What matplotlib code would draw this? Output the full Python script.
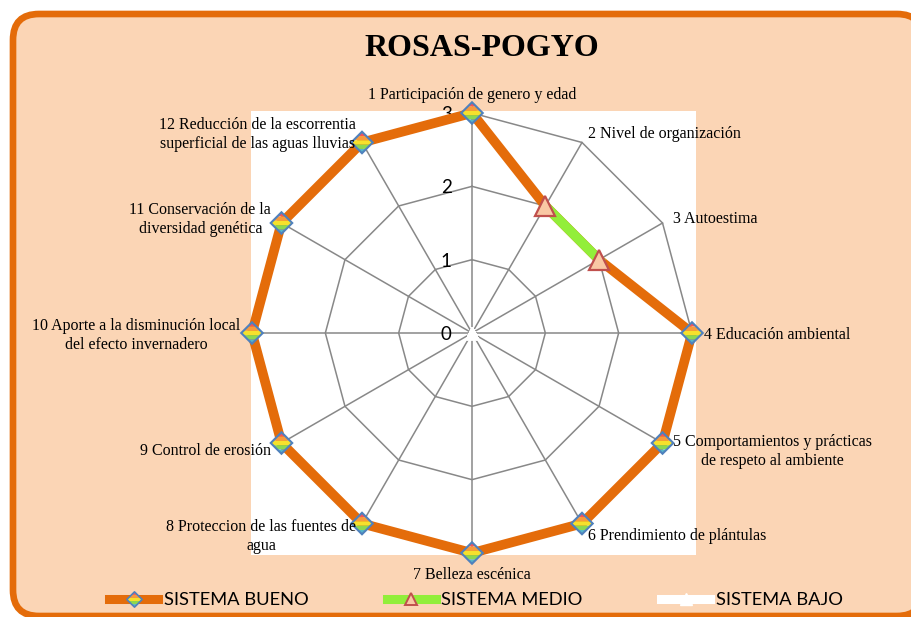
import numpy as np
import matplotlib
matplotlib.use("Agg")
import matplotlib.pyplot as plt
from matplotlib.patches import FancyBboxPatch, Rectangle
from matplotlib.path import Path
from matplotlib.lines import Line2D
from matplotlib.transforms import IdentityTransform
from matplotlib.legend_handler import HandlerTuple

# data
categorias = [
    "1 Participación de genero y edad",
    "2 Nivel de organización",
    "3 Autoestima",
    "4 Educación ambiental",
    "5 Comportamientos y prácticas\nde respeto al ambiente",
    "6 Prendimiento de plántulas",
    "7 Belleza escénica",
    "8 Proteccion de las fuentes de\nagua",
    "9 Control de erosión",
    "10 Aporte a la disminución local\ndel efecto invernadero",
    "11 Conservación de la\ndiversidad genética",
    "12 Reducción de la escorrentia\nsuperficial de las aguas lluvias",
]
sistema_bueno = [3, 2, 2, 3, 3, 3, 3, 3, 3, 3, 3, 3]
sistema_medio = [np.nan, 2, 2, np.nan, np.nan, np.nan, np.nan, np.nan, np.nan, np.nan, np.nan, np.nan]
sistema_bajo = [0] * 12
niveles = [0, 1, 2, 3]
titulo = "ROSAS-POGYO"
series_nombres = ["SISTEMA BUENO", "SISTEMA MEDIO", "SISTEMA BAJO"]

NARANJA = "#E46C0A"
DURAZNO = "#FBD5B5"
VERDE = "#92EE3A"
GRIS = "#888888"
AZUL = "#4F81BD"
ARCOIRIS = ["#F2545B", "#F89A3C", "#F6E12C", "#8ED84F", "#56B7C9"]

W, H = 912, 617
fig = plt.figure(figsize=(W / 100, H / 100), dpi=100)
fig.patch.set_facecolor("white")

# fondo redondeado
fondo = FancyBboxPatch((13, 1), 910, 602, boxstyle="round,pad=0,rounding_size=26",
                       facecolor=DURAZNO, edgecolor=NARANJA, linewidth=4.8,
                       transform=IdentityTransform(), zorder=-2)
fig.patches.append(fondo)
# area de trazado blanca
fig.patches.append(Rectangle((251 / W, 1 - 555 / H), 445 / W, 444 / H,
                             transform=fig.transFigure, facecolor="white",
                             edgecolor="none", zorder=-1))

fig.text(482 / W, 1 - 49 / H, titulo, ha="center", va="center",
         fontsize=23, fontweight="bold", family="Liberation Serif")

ax = fig.add_axes([252 / W, 1 - 553 / H, 440 / W, 440 / H], projection="polar")
ax.patch.set_visible(False)
ax.set_theta_zero_location("N")
ax.set_theta_direction(-1)
ax.set_ylim(0, 3)
ax.grid(False)
ax.set_xticks([])
ax.set_yticks([])
ax.spines["polar"].set_visible(False)

n = len(categorias)
ang = np.arange(n) * 2 * np.pi / n
ang_c = np.append(ang, ang[0])

# rejilla poligonal
for r in niveles[1:]:
    ax.plot(ang_c, [r] * (n + 1), color=GRIS, lw=1.1, zorder=1, clip_on=False)
for a in ang:
    ax.plot([a, a], [0, 3], color=GRIS, lw=1.1, zorder=1, clip_on=False)

for r in niveles:
    ax.annotate(str(r), xy=(0, r), xytext=(-14.5, -1), textcoords="offset points",
                ha="right", va="center", fontsize=13.5, family="Lato")


def franja(y0, y1):
    # franja horizontal de un rombo (vertices en la escala del rombo completo)
    def x(y):
        return 1 - abs(y)
    pts = [(-x(y0), y0), (x(y0), y0)]
    if y0 < 0 < y1:
        pts.append((1, 0))
    pts += [(x(y1), y1), (-x(y1), y1)]
    if y0 < 0 < y1:
        pts.append((-1, 0))
    return pts


cortes = np.linspace(1, -1, len(ARCOIRIS) + 1)
franjas_pts = [franja(cortes[i + 1], cortes[i]) for i in range(len(ARCOIRIS))]
rombo = [(0, 1), (1, 0), (0, -1), (-1, 0)]


def dibujar_rombos(eje, th, r, tam, mew):
    # cada rombo degradado se dibuja en pixeles alrededor del punto
    tr = eje.transData
    for t, v in zip(th, r):
        cx, cy = tr.transform((t, v))
        mitad = tam / 2
        for pts, c in zip(franjas_pts, ARCOIRIS):
            xy = [(cx + px * mitad, cy + py * mitad) for px, py in pts]
            eje.add_patch(plt.Polygon(xy, closed=True, facecolor=c, edgecolor="none",
                                      transform=IdentityTransform(), zorder=4, clip_on=False))
        xy = [(cx + px * mitad, cy + py * mitad) for px, py in rombo]
        eje.add_patch(plt.Polygon(xy, closed=True, facecolor="none", edgecolor=AZUL,
                                  lw=mew, transform=IdentityTransform(), zorder=4.1, clip_on=False))


bb = sistema_bueno + [sistema_bueno[0]]
ax.plot(ang_c, bb, color=NARANJA, lw=7, solid_joinstyle="miter", zorder=3, clip_on=False)
fig.canvas.draw()
# los rombos solo donde no hay marcador del sistema medio
solo_bueno = [i for i in range(n) if np.isnan(sistema_medio[i])]
dibujar_rombos(ax, ang[solo_bueno], np.array(sistema_bueno)[solo_bueno], 21.5, 1.5)

ax.plot(np.append(ang, ang[0]), sistema_medio + [sistema_medio[0]], color=VERDE, lw=7,
        zorder=5, clip_on=False)
ax.plot(ang, sistema_medio, ls="none", marker="^", ms=14, mfc="#F9C8A4", mec="#C0504D",
        mew=1.6, zorder=6, clip_on=False)

ax.plot(ang_c, sistema_bajo + [0], color="white", lw=6, zorder=7, clip_on=False)
ax.plot(ang, sistema_bajo, ls="none", marker="^", ms=8, mfc="white", mec="white", zorder=7,
        clip_on=False)

# etiquetas de categorias
d = 8.6
for a, txt in zip(ang, categorias):
    s, c = np.sin(a), np.cos(a)
    ha = "center" if abs(s) < 1e-6 else ("left" if s > 0 else "right")
    if abs(s) < 1e-6:
        va = "bottom" if c > 0 else "top"
    else:
        va = "center"
    ax.annotate(txt, xy=(a, 3), xytext=(d * s, d * c - 1.6), textcoords="offset points",
                ha=ha, va=va, multialignment="center", fontsize=11.5, linespacing=1.25,
                family="Liberation Serif", zorder=10, annotation_clip=False)


# leyenda: rombo pequeno con franjas como marcadores de ruta propia
def ruta(pts):
    verts = [(0, 1.0), (0, -1.0)] + pts + [pts[0]]
    codes = [Path.MOVETO, Path.MOVETO, Path.MOVETO] + [Path.LINETO] * (len(pts) - 1) + [Path.CLOSEPOLY]
    return Path(verts, codes)


partes = [Line2D([], [], color=NARANJA, lw=6.5)]
partes += [Line2D([], [], ls="none", marker=ruta(p), ms=11, mfc=c, mew=0)
           for p, c in zip(franjas_pts, ARCOIRIS)]
partes.append(Line2D([], [], ls="none", marker=ruta(rombo), ms=11, mfc="none", mec=AZUL, mew=1.2))
h_bueno = tuple(partes)
h_medio = (Line2D([], [], color=VERDE, lw=6.5),
           Line2D([], [], ls="none", marker="^", ms=9, mfc="#F9C8A4", mec="#C0504D", mew=1.4))
h_bajo = (Line2D([], [], color="white", lw=6.5),
          Line2D([], [], ls="none", marker="^", ms=9, mfc="white", mec="white"))

fig.legend([h_bueno, h_medio, h_bajo], series_nombres,
           handler_map={tuple: HandlerTuple(ndivide=1)},
           loc="center", bbox_to_anchor=(476 / W, 1 - 600 / H), ncol=3, frameon=False,
           prop={"family": "Lato", "size": 13.2}, handlelength=2.65, handletextpad=0.3,
           columnspacing=4.3, numpoints=1)

fig.savefig("out.png", dpi=100)
